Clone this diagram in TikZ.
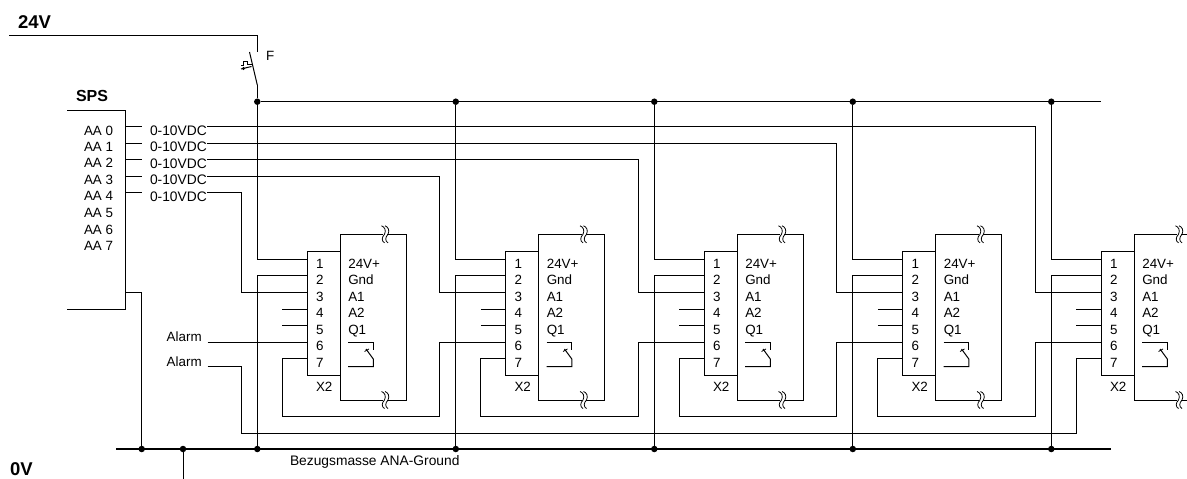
\documentclass[tikz,border=0pt]{standalone}
\usepackage{fontspec}
\setmainfont{Liberation Sans}
\tikzset{
	wirebreak/.pic={
		\fill[white] (-1.5,-1.5) rectangle (2.5,1.5);
		\draw[line width=0.8pt] (-3,-8.5) .. controls (0,-7.5) and (2,-4) .. (0,0) .. controls (-3,3) and (-3,7) .. (0,8.5);
		\draw[line width=0.8pt] (0.5,-8.5) .. controls (3.5,-7.5) and (5.5,-4) .. (3.5,0) .. controls (0.5,3) and (0.5,7) .. (3.5,8.5);
	}
}
\begin{document}
\begin{tikzpicture}[x=1pt,y=-1pt,line width=1pt,
	every node/.style={inner sep=0pt,outer sep=0pt},
	label/.style={anchor=base west,font=\fontsize{13.4}{15}\selectfont},
	widelabel/.style={anchor=base west,font=\fontsize{13.8}{15}\selectfont},
	title/.style={anchor=base west,font=\fontsize{18.5}{20}\selectfont\bfseries},
	pinbox/.style={draw,minimum width=32.7pt,minimum height=124pt},
	relaybox/.style={draw,minimum width=66pt,minimum height=165.7pt},
	junction/.style={circle,fill=black,minimum size=6.5pt},
	bus/.style={line width=2.8pt}]
	\useasboundingbox (0,0) rectangle (1187,479);

	\node[title] (plus) at (18,28) {24V};
	\node[title] (minus) at (10,475.5) {0V};
	\node[title,font=\fontsize{16}{18}\selectfont\bfseries] (sps) at (76,101.7) {SPS};
	\node[label] (fuse) at (266,60.8) {F};
	\node[widelabel] (ground) at (290,465) {Bezugsmasse ANA-Ground};

	\coordinate (supply) at (9,35.7);
	\coordinate (corner) at (257.3,35.7);
	\coordinate (fusein) at (257.3,52);
	\coordinate (bladetop) at (249.5,52);
	\coordinate (fuseout) at (257.3,85);
	\coordinate (railend) at (1101.3,101.7);
	\coordinate (busleft) at (116,449);
	\coordinate (busright) at (1110.7,449);
	\draw (supply) -- (corner) -- (fusein);
	\draw (bladetop) -- (fuseout);
	\draw (252,64.5) -| (247.5,61) -| (243.5,65) -- (240.5,65);
	\draw (241,69) -- (251.5,66.5);
	\fill (243.5,68.5) circle (1.7);
	\draw[bus] (busleft) -- (busright);

	\coordinate (spstop) at (67,110);
	\coordinate (spsout) at (125.3,292.3);
	\coordinate (spscorner) at (125.3,309);
	\coordinate (spsend) at (67,309);
	\coordinate (spsdrop) at (141.7,292.3);
	\draw (spstop) -| (spscorner) -- (spsend);
	\draw (spsout) -- (spsdrop);
	\node[junction] (spsbus) at (141.7,449) {};
	\draw (spsdrop) -- (spsbus);
	\node[junction] (earth) at (183,449) {};
	\coordinate (earthend) at (183,479);
	\draw (earth) -- (earthend);

	\foreach \a/\y/\t in {0/126.7/135,1/143.2/151.5,2/159.8/168,3/176.3/184.5,4/192.7/201}{
		\coordinate (aaout\a) at (125.3,\y);
		\coordinate (aastub\a) at (142,\y);
		\coordinate (signal\a) at (207,\y);
		\draw (aaout\a) -- (aastub\a);
		\node[widelabel] (volt\a) at (150,\t) {0-10VDC};
	}
	\foreach \a/\t in {0/135,1/151,2/167.5,3/184,4/200.7,5/217.3,6/234,7/250.5}{
		\node[label] (aa\a) at (84,\t) {AA \a};
	}

	\foreach \m/\a in {1/4,2/3,3/2,4/1,5/0}{
		\pgfmathsetmacro{\dx}{(\m-1)*198.5}
		\begin{scope}[xshift=\dx pt]
			\node[pinbox] (xtwo\m) at (323.65,313) {};
			\node[relaybox] (relay\m) at (373,317.2) {};
			\pic at (384.5,234.3) {wirebreak};
			\pic at (384.5,400) {wirebreak};
			\foreach \n/\y/\t in {1/259.3/268.3,2/275.8/284.3,3/292.3/301.7,4/309/317.7,5/325.5/334.5,6/342/350.7,7/358.3/367}{
				\coordinate (pin\m-\n) at (307.3,\y);
				\node[label] (num\m-\n) at (316,\t) {\n};
			}
			\foreach \n/\t/\s in {1/268.3/24V+,2/284.3/Gnd,3/301.7/A1,4/317.7/A2,5/334.5/Q1}{
				\node[label] (func\m-\n) at (348.3,\t) {\s};
			}
			\node[label] (name\m) at (316,391.7) {X2};
			\coordinate (rail\m) at (257.3,101.7);
			\coordinate (ret\m) at (257.3,449);
			\coordinate (turn\m) at (241,292.3);
			\coordinate (turnsix\m) at (241,342);
			\coordinate (loop\m) at (282.3,416.3);
			\coordinate (stub\m-4) at (282.3,309);
			\coordinate (stub\m-5) at (282.3,325.5);
			\coordinate (notop\m) at (348,342);
			\coordinate (nocorner\m) at (373.3,342);
			\coordinate (nofix\m) at (373.3,350);
			\coordinate (nopivot\m) at (373.3,359);
			\coordinate (nolow\m) at (373.3,366.7);
			\coordinate (nobottom\m) at (348,366.7);
			\coordinate (noblade\m) at (366,349);
			\coordinate (notickl\m) at (364.5,351.5);
			\coordinate (notickr\m) at (369,349);
		\end{scope}
		\node[junction] (railjoin\m) at (rail\m) {};
		\node[junction] (busjoin\m) at (ret\m) {};
		\draw (railjoin\m) |- (pin\m-1);
		\draw (busjoin\m) |- (pin\m-2);
		\draw (signal\a) -| (turn\m) -- (pin\m-3);
		\draw (stub\m-4) -- (pin\m-4);
		\draw (stub\m-5) -- (pin\m-5);
		\draw (notop\m) -- (nocorner\m) -- (nofix\m);
		\draw (nobottom\m) -- (nolow\m) -- (nopivot\m) -- (noblade\m);
		\draw[line width=0.8pt] (notickl\m) -- (notickr\m);
	}
	\draw (railjoin1) -- (railend);
	\draw (fuseout) -- (railjoin1);
	\foreach \m/\k in {1/2,2/3,3/4,4/5}{
		\draw (pin\m-7) -| (loop\m) -| (turnsix\k) -- (pin\k-6);
	}

	\node[label] (alarmone) at (166.7,341.7) {Alarm};
	\node[label] (alarmtwo) at (166.7,366.7) {Alarm};
	\coordinate (alarmonewire) at (207.7,342);
	\coordinate (alarmtwowire) at (207.7,366.7);
	\coordinate (alarmdrop) at (241,433.3);
	\coordinate (alarmend) at (1076.7,433.3);
	\draw (alarmonewire) -- (pin1-6);
	\draw (alarmtwowire) -| (alarmdrop) -- (alarmend) |- (pin5-7);
\end{tikzpicture}
\end{document}
